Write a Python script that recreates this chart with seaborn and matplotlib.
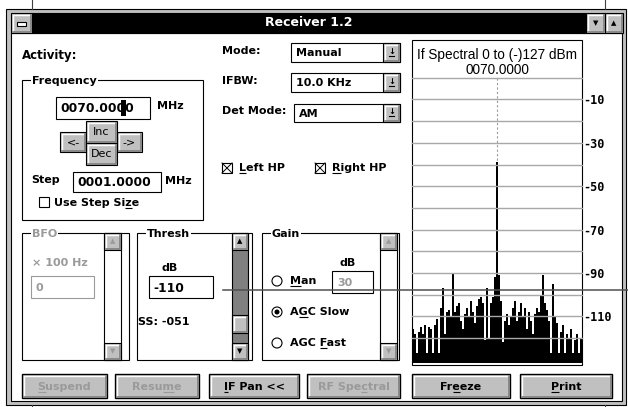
import numpy as np
import pandas as pd
import matplotlib.pyplot as plt
from matplotlib.patches import Rectangle, Circle
from matplotlib.font_manager import FontProperties
import seaborn as sns

# IF spectral trace, dBm per display bin (left to right)
spectrum_db = [
    -116, -118, -127, -117, -115, -118, -114, -127, -115, -116,
    -127, -114, -111, -127, -106, -97, -118, -108, -107, -110,
    -90, -108, -105, -104, -112, -116, -109, -106, -110, -103,
    -108, -113, -105, -102, -101, -104, -121, -97, -120, -104,
    -101, -92, -39, -91, -103, -122, -112, -109, -114, -110,
    -106, -103, -112, -108, -104, -110, -106, -116, -108, -112,
    -118, -109, -106, -108, -100, -91, -104, -107, -112, -127,
    -95, -110, -113, -127, -117, -114, -127, -118, -120, -116,
    -127, -121, -118, -127, -120,
]
grid_db = [0, -10, -20, -30, -40, -50, -60, -70, -80, -90, -100, -110, -120]
label_db = [-10, -30, -50, -70, -90, -110]
label_txt = ["-10", "-30", "-50", "-70", "-90", "-110"]
threshold_db = -98
center_freq = "0070.0000"
spectral_title = "If Spectral 0 to (-)127 dBm"

FLOOR = -131.6
FACE = "#c0c0c0"
SHADOW = "#808080"
GREY_TXT = "#9a9a9a"

plt.rcParams["font.family"] = ["DejaVu Sans"]

fig = plt.figure(figsize=(6.28, 4.07), dpi=100)
ui = fig.add_axes([0, 0, 1, 1])
ui.set_xlim(0, 628)
ui.set_ylim(407, 0)
ui.axis("off")
renderer = fig.canvas.get_renderer()


def text_w(s, size, weight):
    if not s:
        return 0.0
    prop = FontProperties(family="DejaVu Sans", size=size, weight=weight)
    return renderer.get_text_width_height_descent(s, prop, ismath=False)[0]


def box(x0, y0, x1, y1, fc="white", ec="black", lw=0.8, z=1):
    ui.add_patch(Rectangle((x0, y0), x1 - x0, y1 - y0, facecolor=fc,
                           edgecolor=ec, linewidth=lw, zorder=z))


def raised(x0, y0, x1, y1, lw=0.8, z=2):
    box(x0, y0, x1, y1, fc=FACE, lw=lw, z=z)
    ui.plot([x0 + 1.5, x0 + 1.5, x1 - 2], [y1 - 2, y0 + 1.5, y0 + 1.5],
            color="white", lw=1, zorder=z + 0.1)
    ui.plot([x0 + 1.5, x1 - 1.5, x1 - 1.5], [y1 - 1.5, y1 - 1.5, y0 + 1.5],
            color=SHADOW, lw=1.2, zorder=z + 0.1)


def label(x, y, s, color="black", size=8, weight="bold", ha="left", ul=None):
    ui.text(x, y, s, color=color, fontsize=size, fontweight=weight,
            ha=ha, va="center", zorder=4)
    if ul is not None:
        x_start = x - text_w(s, size, weight) / 2 if ha == "center" else x
        a = x_start + text_w(s[:ul], size, weight)
        b = x_start + text_w(s[:ul + 1], size, weight)
        ui.plot([a, b], [y + 5, y + 5], color=color, lw=0.8, zorder=4,
                solid_capstyle="butt")


def group(x0, y0, x1, y1, title, color="black"):
    box(x0, y0, x1, y1, fc="none")
    ui.text(x0 + 10, y0 + 1, title, fontsize=8, fontweight="bold", color=color,
            va="center", ha="left", zorder=4,
            bbox=dict(fc="white", ec="none", pad=0.6))


def combo(x0, y0, x1, y1, s):
    box(x0, y0, x1, y1, z=2)
    raised(x1 - 17, y0, x1, y1, z=3)
    ym = (y0 + y1) / 2
    ui.text(x1 - 8.5, ym - 1, "\u2193", fontsize=6, fontweight="bold",
            ha="center", va="center", zorder=5)
    ui.plot([x1 - 11, x1 - 6], [ym + 3, ym + 3], color="black", lw=0.8, zorder=5)
    label(x0 + 5, ym + 1, s)


def checkbox(x0, y0, checked):
    box(x0, y0, x0 + 10, y0 + 10, z=2)
    if checked:
        ui.plot([x0, x0 + 10], [y0, y0 + 10], color="black", lw=0.7, zorder=3)
        ui.plot([x0, x0 + 10], [y0 + 10, y0], color="black", lw=0.7, zorder=3)


def radio(x, y, on):
    ui.add_patch(Circle((x, y), 5, fc="white", ec="black", lw=0.8, zorder=3))
    if on:
        ui.add_patch(Circle((x, y), 2.5, fc="black", ec="none", zorder=4))


def scrollbar(x0, y0, x1, y1, enabled, thumb=None):
    box(x0, y0, x1, y1, fc=SHADOW if enabled else "white", z=2)
    col = "black" if enabled else GREY_TXT
    raised(x0, y0, x1, y0 + 17, z=3)
    raised(x0, y1 - 17, x1, y1, z=3)
    xm = (x0 + x1) / 2
    ui.text(xm, y0 + 8.5, "\u25b2", fontsize=5, color=col, ha="center", va="center", zorder=5)
    ui.text(xm, y1 - 8.5, "\u25bc", fontsize=5, color=col, ha="center", va="center", zorder=5)
    if thumb is not None:
        raised(x0, thumb[0], x1, thumb[1], z=3)


# background window lines
for xb in (32, 605):
    ui.plot([xb, xb], [0, 9], color="#404040", lw=0.8)
    ui.plot([xb, xb], [405, 407], color="#404040", lw=0.8)

# window frame, title bar
box(6, 9, 626, 405, fc=FACE)
box(11, 33, 622, 401, fc="white")
box(32, 13, 586, 33, fc="black")
raised(11, 13, 32, 33)
box(17, 21.5, 26, 25.5, fc="white", z=4)
raised(586, 13, 605, 33)
raised(605, 13, 623, 33)
ui.text(595.5, 23, "\u25bc", fontsize=5, ha="center", va="center", zorder=5)
ui.text(614, 23, "\u25b2", fontsize=5, ha="center", va="center", zorder=5)
ui.text(309, 23, "Receiver 1.2", color="white", fontsize=9, fontweight="bold",
        ha="center", va="center", zorder=5)

# left column
label(22, 55, "Activity:", size=8.5)
group(22, 80, 203, 220, "Frequency")
box(56, 97, 150, 119, z=2)
label(60, 108.5, center_freq, size=8.8)
box(121, 100, 126, 116, fc="black", ec="none", z=5)
label(157, 106, "MHz")
raised(60, 132, 86, 152)
raised(117, 132, 142, 152)
raised(86, 121, 117, 143, z=3)
raised(86, 143, 117, 165, z=3)
label(73, 142, "<-", weight="normal", ha="center")
label(129.5, 142, "->", weight="normal", ha="center")
label(101.5, 132, "Inc", weight="normal", ha="center")
label(101.5, 154, "Dec", weight="normal", ha="center")
label(31, 180, "Step")
box(73, 172, 161, 192, z=2)
label(77, 182.5, "0001.0000", size=8.8)
label(165, 181, "MHz")
checkbox(39, 197, False)
label(54, 203, "Use Step Size", ul=11)

# middle column
label(222, 51, "Mode:")
combo(291, 43, 400, 62, "Manual")
label(222, 81, "IFBW:")
combo(291, 73, 400, 92, "10.0 KHz")
label(222, 111, "Det Mode:")
combo(294, 104, 400, 122, "AM")
checkbox(222, 163, True)
label(239, 168, "Left HP", ul=0)
checkbox(315, 163, True)
label(332, 168, "Right HP", ul=0)

# BFO / Thresh / Gain groups
group(22, 233, 129, 360, "BFO", color=GREY_TXT)
scrollbar(104, 233, 121, 360, False)
label(32, 263, "\u00d7 100 Hz", color=GREY_TXT)
box(31, 276, 94, 298, fc="white", ec=GREY_TXT, z=2)
label(36, 288, "0", color=GREY_TXT)

group(137, 233, 252, 360, "Thresh")
scrollbar(232, 233, 248, 360, True, thumb=(315, 333))
label(162, 268, "dB")
box(149, 276, 213, 298, z=2)
label(153, 288, "-110", size=8.8)
label(138, 322, "SS: -051")

group(262, 233, 399, 360, "Gain")
scrollbar(380, 233, 397, 360, False)
label(339, 263, "dB")
radio(277, 281, False)
label(290, 281, "Man", ul=0)
box(332, 271, 373, 293, z=2)
label(337, 283, "30", color=GREY_TXT)
radio(277, 312, True)
label(290, 312, "AGC Slow", ul=1)
radio(277, 343, False)
label(290, 343, "AGC Fast", ul=4)

# bottom buttons
buttons = [(22, 107, "Suspend", 0, False), (115, 199, "Resume", 4, False),
           (209, 299, "IF Pan <<", 0, True), (307, 400, "RF Spectral", 6, False),
           (412, 510, "Freeze", 2, True), (520, 612, "Print", 0, True)]
for x0, x1, s, u, on in buttons:
    raised(x0, 374, x1, 398, lw=1.0)
    label((x0 + x1) / 2, 386.5, s, ha="center", ul=u,
          color="black" if on else GREY_TXT)

# spectral panel frame and header
box(412, 40, 582, 365, fc="white")
ui.text(497, 55, spectral_title, fontsize=9.8, family="Liberation Sans",
        ha="center", va="center", zorder=4)
ui.text(497, 70, center_freq, fontsize=9.8, family="Liberation Sans",
        ha="center", va="center", zorder=4)

# spectrum axes
spec = fig.add_axes([412 / 628, 1 - 363.3 / 407, 169.7 / 628, 285.6 / 407])
spec.patch.set_visible(False)
df = pd.DataFrame({"bin": np.arange(len(spectrum_db)),
                   "level": np.array(spectrum_db) - FLOOR})
sns.barplot(data=df, x="bin", y="level", color="black", width=1.0,
            saturation=1, linewidth=0, errorbar=None, ax=spec, zorder=1)
spec.set_xlim(-0.5, len(spectrum_db) - 0.5)
spec.set_ylim(0, -FLOOR)
for g in grid_db:
    spec.axhline(g - FLOOR, color="#a8a8a8", lw=1.0, zorder=3, clip_on=False)
peak = int(np.argmax(spectrum_db))
spec.plot([peak, peak], [0 - FLOOR, spectrum_db[peak] - FLOOR], color="#9a9a9a",
          lw=0.8, dashes=(2, 2), zorder=2)
spec.plot([-1.115, 1.273], [threshold_db - FLOOR] * 2,
          transform=spec.get_yaxis_transform(), clip_on=False,
          color="#505050", lw=1.1, zorder=6)
for s in spec.spines.values():
    s.set_visible(False)
spec.set_xticks([])
spec.set_xlabel("")
spec.set_ylabel("")
spec.yaxis.tick_right()
spec.set_yticks([d - FLOOR for d in label_db])
spec.set_yticklabels(label_txt, fontfamily="DejaVu Sans Mono",
                     fontweight="bold", fontsize=8.5)
spec.tick_params(axis="y", length=0, pad=1)

fig.savefig("out.png", dpi=100)
